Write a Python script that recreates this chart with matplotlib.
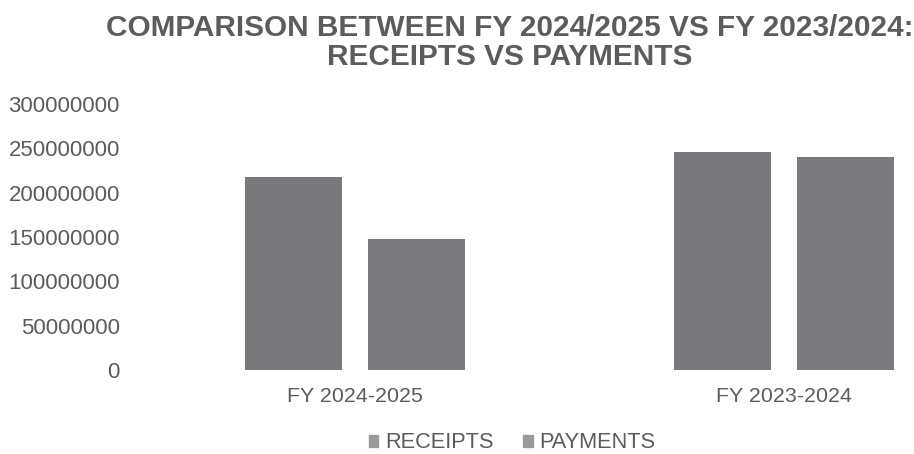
import matplotlib
matplotlib.use("Agg")
import matplotlib.pyplot as plt
import numpy as np

categories = ["FY 2024-2025", "FY 2023-2024"]
series_names = ["RECEIPTS", "PAYMENTS"]
receipts = [218000000, 246000000]
payments = [148000000, 240000000]
yticks = [0, 50000000, 100000000, 150000000, 200000000, 250000000, 300000000]
title_lines = ["COMPARISON BETWEEN FY 2024/2025 VS FY 2023/2024:", "RECEIPTS VS PAYMENTS"]

plt.rcParams['font.family'] = ['Liberation Sans', 'DejaVu Sans']
W, H = 914, 454
fig = plt.figure(figsize=(W/100, H/100), dpi=100)
fig.patch.set_facecolor('white')

left, right = 140/W, 914/W
bottom, top = 1-370/H, 1-104/H
ax = fig.add_axes([left, bottom, right-left, top-bottom])

bar_color = '#79797d'
text_color = '#5c5c5c'
x = np.arange(len(categories))
w = 0.226
off = 0.1435
ax.bar(x - off, receipts, width=w, color=bar_color, label=series_names[0])
ax.bar(x + off, payments, width=w, color='#7b7b7f', label=series_names[1])

ax.set_xlim(-0.5, 1.303)
ax.set_ylim(0, 300000000)
ax.set_yticks(yticks)
ax.set_yticklabels([str(v) for v in yticks])
ax.set_xticks(x)
ax.set_xticklabels(categories)
ax.tick_params(axis='y', length=0, pad=14.5, labelsize=16, labelcolor=text_color)
ax.tick_params(axis='x', length=0, pad=12, labelsize=15.4, labelcolor=text_color)
for s in ax.spines.values():
    s.set_visible(False)

fig.text(510/W, 1-28/H, title_lines[0], ha='center', va='center', fontsize=21.4,
         fontweight='bold', color=text_color)
fig.text(510/W, 1-57/H, title_lines[1], ha='center', va='center', fontsize=21.4,
         fontweight='bold', color=text_color)

leg = fig.legend(loc='center', bbox_to_anchor=(512/W, 1-443/H), ncol=2, frameon=False,
                 fontsize=15.7, handlelength=0.45, handleheight=0.45, handletextpad=0.3,
                 columnspacing=1.35, labelcolor=text_color)
for h in leg.legend_handles:
    h.set_color('#9a9a9a')

fig.savefig('out.png', dpi=100, facecolor='white')
